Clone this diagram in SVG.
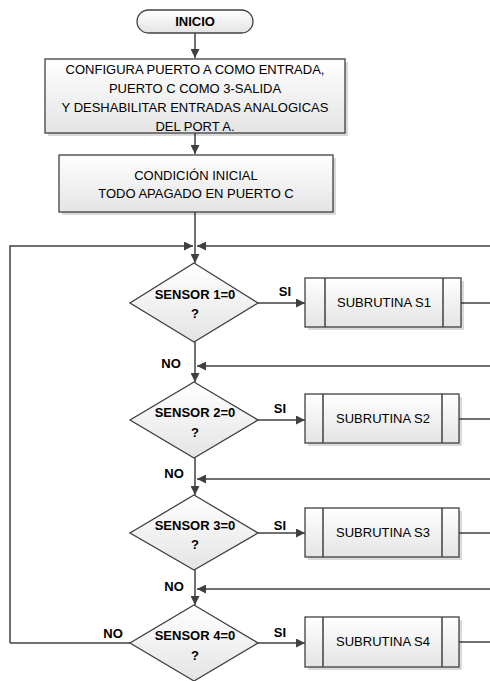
<svg xmlns="http://www.w3.org/2000/svg" width="490" height="681" viewBox="0 0 490 681">
<style>
.n{fill:url(#g);stroke:#404040;stroke-width:1.3}
.sh{fill:#000;opacity:0.15}
.t{font-family:"Liberation Sans",Arial,sans-serif;font-size:13px;fill:#000;text-anchor:middle}
.b{font-family:"Liberation Sans",Arial,sans-serif;font-size:13px;font-weight:bold;fill:#000;text-anchor:middle}
.c{fill:none;stroke:#404040;stroke-width:1.5}
.a{marker-end:url(#ar)}
</style>
<defs>
<linearGradient id="g" x1="0" y1="0" x2="0" y2="1"><stop offset="0" stop-color="#ffffff"/><stop offset="1" stop-color="#e4e4e4"/></linearGradient>
<marker id="ar" viewBox="0 0 10 10" refX="10" refY="5" markerWidth="10" markerHeight="9" markerUnits="userSpaceOnUse" orient="auto"><path d="M0,0 L10,5 L0,10 z" fill="#404040"/></marker>
</defs>
<g id="connectors">
<path class="c a" d="M195,33 V58"/>
<path class="c a" d="M195,133 V154"/>
<path class="c a" d="M195,212 V263"/>
<path class="c a" d="M10,643 V246 H193"/>
<path class="c a" d="M490,246 H197"/>
<path class="c a" d="M195,342 V382"/>
<path class="c a" d="M490,366 H197"/>
<path class="c a" d="M195,458 V495"/>
<path class="c a" d="M490,479 H197"/>
<path class="c a" d="M195,570 V605"/>
<path class="c a" d="M490,589 H197"/>
<path class="c" d="M130,643 H10"/>
<path class="c a" d="M258,303 H305"/>
<path class="c a" d="M258,420 H305"/>
<path class="c a" d="M258,533 H305"/>
<path class="c a" d="M258,643 H305"/>
<path class="c" d="M461,303 H490"/>
<path class="c" d="M459,419 H490"/>
<path class="c" d="M459,533 H490"/>
<path class="c" d="M459,642 H490"/>
<text class="b" x="285" y="296">SI</text>
<text class="b" x="280" y="413">SI</text>
<text class="b" x="280" y="530">SI</text>
<text class="b" x="280" y="637">SI</text>
<text class="b" x="171" y="368">NO</text>
<text class="b" x="174" y="478">NO</text>
<text class="b" x="174" y="591">NO</text>
<text class="b" x="113" y="638">NO</text>
</g>
<g id="inicio">
<rect x="137" y="10" width="116" height="23" rx="11.5" class="n"/>
<text class="b" x="195" y="26">INICIO</text>
</g>
<g id="config">
<rect x="48" y="62" width="300" height="74" class="sh"/>
<rect x="45" y="59" width="300" height="74" class="n"/>
<text class="t" x="195" y="74">CONFIGURA PUERTO A COMO ENTRADA,</text>
<text class="t" x="195" y="93">PUERTO C COMO 3-SALIDA</text>
<text class="t" x="195" y="112">Y DESHABILITAR ENTRADAS ANALOGICAS</text>
<text class="t" x="195" y="131">DEL PORT A.</text>
</g>
<g id="condicion">
<rect x="62" y="158" width="274" height="57" class="sh"/>
<rect x="59" y="155" width="274" height="57" class="n"/>
<text class="t" x="196" y="180">CONDICIÓN INICIAL</text>
<text class="t" x="196" y="198">TODO APAGADO EN PUERTO C</text>
</g>
<g id="sensor1">
<path d="M194,263 L258,303 L194,342 L130,303 Z" class="n"/>
<text class="b" x="195" y="299">SENSOR 1=0</text>
<text class="b" x="195" y="318">?</text>
</g>
<g id="sub1">
<rect x="308" y="281" width="156" height="49" class="sh"/>
<rect x="305" y="278" width="156" height="49" class="n"/>
<path d="M325,278 V327 M443,278 V327" class="c" stroke-width="1.3"/>
<text class="t" x="384" y="307">SUBRUTINA S1</text>
</g>
<g id="sensor2">
<path d="M194,382 L258,420 L194,458 L130,420 Z" class="n"/>
<text class="b" x="195" y="417">SENSOR 2=0</text>
<text class="b" x="195" y="437">?</text>
</g>
<g id="sub2">
<rect x="308" y="397" width="154" height="49" class="sh"/>
<rect x="305" y="394" width="154" height="49" class="n"/>
<path d="M323,394 V443 M442,394 V443" class="c" stroke-width="1.3"/>
<text class="t" x="383" y="423">SUBRUTINA S2</text>
</g>
<g id="sensor3">
<path d="M194,495 L258,533 L194,570 L130,533 Z" class="n"/>
<text class="b" x="195" y="530">SENSOR 3=0</text>
<text class="b" x="195" y="549">?</text>
</g>
<g id="sub3">
<rect x="308" y="511" width="154" height="49" class="sh"/>
<rect x="305" y="508" width="154" height="49" class="n"/>
<path d="M323,508 V557 M442,508 V557" class="c" stroke-width="1.3"/>
<text class="t" x="383" y="537">SUBRUTINA S3</text>
</g>
<g id="sensor4">
<path d="M194,605 L258,643 L194,681 L130,643 Z" class="n"/>
<text class="b" x="195" y="640">SENSOR 4=0</text>
<text class="b" x="195" y="660">?</text>
</g>
<g id="sub4">
<rect x="308" y="620" width="154" height="50" class="sh"/>
<rect x="305" y="617" width="154" height="50" class="n"/>
<path d="M323,617 V667 M442,617 V667" class="c" stroke-width="1.3"/>
<text class="t" x="383" y="646">SUBRUTINA S4</text>
</g>
</svg>
